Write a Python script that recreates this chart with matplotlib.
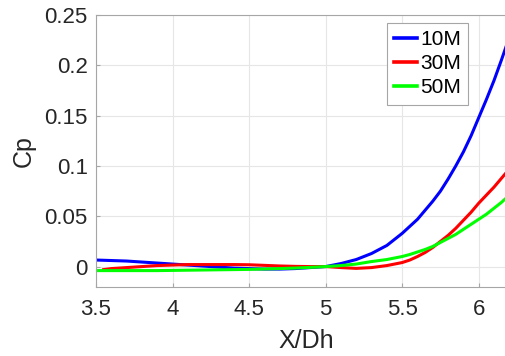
import numpy as np
import matplotlib
matplotlib.use("Agg")
import matplotlib.pyplot as plt

x_10m = [3.5, 3.6, 3.7, 3.8, 3.9, 4.0, 4.1, 4.2, 4.3, 4.4, 4.5, 4.6, 4.7, 4.8, 4.9,
         5.0, 5.1, 5.2, 5.3, 5.4, 5.45, 5.5, 5.55, 5.6, 5.65, 5.7, 5.75, 5.8, 5.85,
         5.9, 5.95, 6.0, 6.05, 6.1, 6.15, 6.2]
cp_10m = [0.0065, 0.006, 0.0055, 0.0045, 0.0035, 0.0025, 0.0015, 0.0005, -0.0005, -0.0015,
          -0.002, -0.0025, -0.0025, -0.002, -0.001, 0.0, 0.003, 0.007, 0.013, 0.021, 0.027,
          0.033, 0.040, 0.047, 0.056, 0.065, 0.075, 0.087, 0.100, 0.114, 0.130, 0.148,
          0.166, 0.185, 0.206, 0.228]

x_30m = [3.55, 3.6, 3.7, 3.8, 3.9, 4.0, 4.1, 4.2, 4.3, 4.4, 4.5, 4.6, 4.7, 4.8, 4.9,
         5.0, 5.1, 5.2, 5.3, 5.4, 5.45, 5.5, 5.55, 5.6, 5.65, 5.7, 5.75, 5.8, 5.85,
         5.9, 5.95, 6.0, 6.05, 6.1, 6.15, 6.2]
cp_30m = [-0.003, -0.002, -0.001, 0.0, 0.001, 0.0015, 0.002, 0.002, 0.002, 0.002,
          0.0018, 0.0012, 0.0006, 0.0002, 0.0, 0.0, -0.001, -0.0018, -0.001, 0.001, 0.0025,
          0.004, 0.0065, 0.010, 0.014, 0.019, 0.025, 0.031, 0.038, 0.046, 0.054, 0.063,
          0.071, 0.079, 0.088, 0.097]

x_50m = [3.5, 3.6, 3.7, 3.8, 3.9, 4.0, 4.1, 4.2, 4.3, 4.4, 4.5, 4.6, 4.7, 4.8, 4.9,
         5.0, 5.1, 5.2, 5.3, 5.4, 5.45, 5.5, 5.55, 5.6, 5.65, 5.7, 5.75, 5.8, 5.85,
         5.9, 5.95, 6.0, 6.05, 6.1, 6.15, 6.2]
cp_50m = [-0.004, -0.004, -0.004, -0.004, -0.004, -0.0038, -0.0036, -0.0034, -0.0032, -0.003,
          -0.0028, -0.0024, -0.002, -0.0015, -0.0008, 0.0, 0.001, 0.0025, 0.005, 0.007, 0.0085,
          0.010, 0.012, 0.0145, 0.017, 0.020, 0.024, 0.028, 0.032, 0.037, 0.042, 0.047,
          0.052, 0.058, 0.064, 0.071]

labels = ["10M", "30M", "50M"]
colors = ["#0000ff", "#ff0000", "#00ff00"]

plt.rcParams["font.family"] = ["Liberation Sans", "DejaVu Sans"]

fig = plt.figure(figsize=(5.06, 3.56), dpi=100)
ax = fig.add_axes([96 / 506, 69.3 / 356, 421 / 506, 271.7 / 356])

for xs, ys, lab, col in zip([x_10m, x_30m, x_50m], [cp_10m, cp_30m, cp_50m], labels, colors):
    ax.plot(xs, ys, color=col, lw=2.2, label=lab)

ax.set_xlim(3.5, 6.25)
ax.set_ylim(-0.02, 0.25)
ax.set_xticks([3.5, 4, 4.5, 5, 5.5, 6])
ax.set_xticklabels(["3.5", "4", "4.5", "5", "5.5", "6"])
ax.set_yticks([0, 0.05, 0.1, 0.15, 0.2, 0.25])
ax.set_yticklabels(["0", "0.05", "0.1", "0.15", "0.2", "0.25"])
ax.grid(True, color="#e6e6e6", lw=0.8)
ax.set_axisbelow(True)

for s in ax.spines.values():
    s.set_color("#a6a6a6")
    s.set_linewidth(0.8)
ax.spines["right"].set_visible(False)
ax.tick_params(direction="in", length=3, color="#a6a6a6", labelcolor="#262626",
               labelsize=16)
ax.tick_params(axis="x", pad=9)
ax.tick_params(axis="y", pad=6)

ax.set_xlabel("X/Dh", fontsize=18, color="#262626", labelpad=6)
ax.set_ylabel("Cp", fontsize=18, color="#262626", labelpad=6)

leg = ax.legend(loc="upper left", bbox_to_anchor=((386.7 - 96) / 421, 1 - 7.7 / 271.7),
                fontsize=15, handlelength=1.1, handletextpad=0.15, borderpad=0.35,
                labelspacing=0.25, borderaxespad=0, fancybox=False, framealpha=1)
leg.get_frame().set_edgecolor("#a6a6a6")
leg.get_frame().set_linewidth(0.8)
for line in leg.get_lines():
    line.set_linewidth(2.6)

fig.savefig("out.png", dpi=100)
